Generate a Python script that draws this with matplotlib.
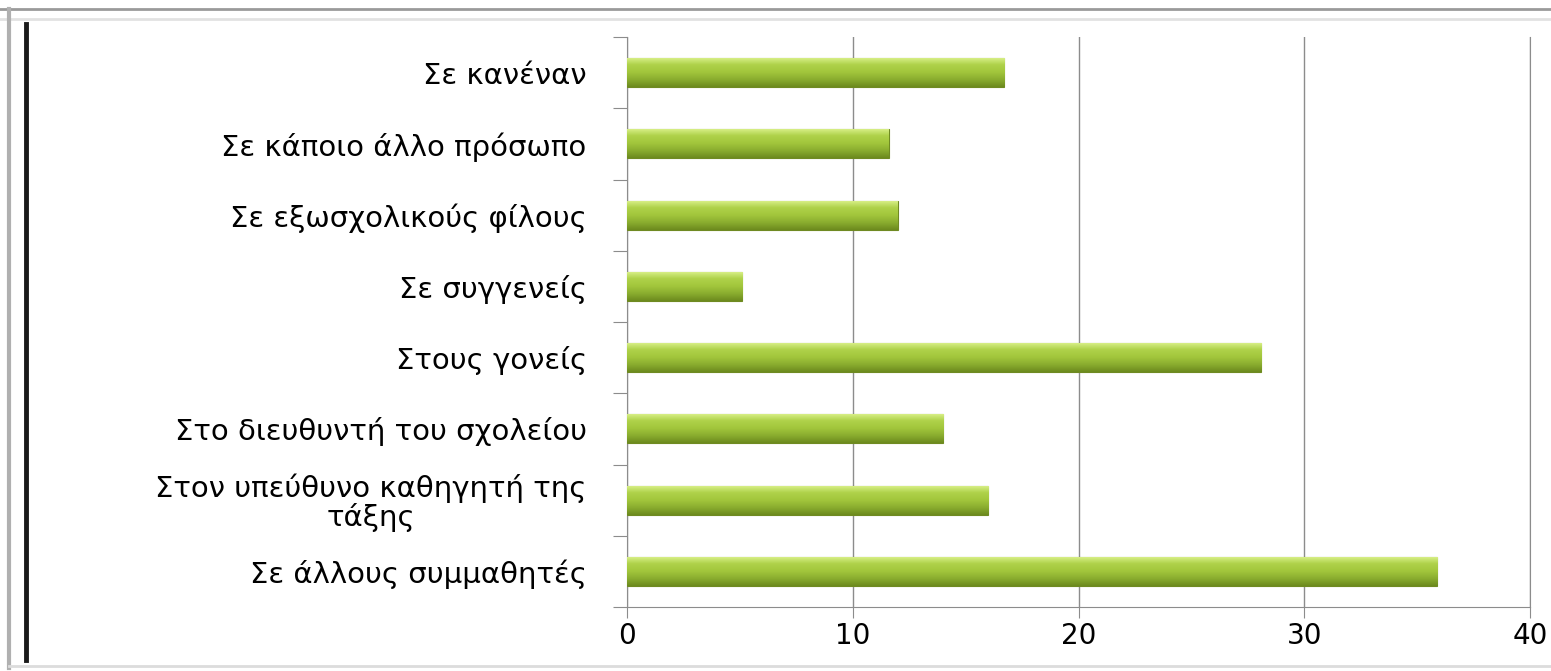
import numpy as np
import matplotlib
matplotlib.use('Agg')
import matplotlib.pyplot as plt
from matplotlib.colors import LinearSegmentedColormap
from matplotlib.lines import Line2D

# categories from bottom to top
categories = ['Σε άλλους συμμαθητές',
              'Στον υπεύθυνο καθηγητή της\nτάξης',
              'Στο διευθυντή του σχολείου',
              'Στους γονείς',
              'Σε συγγενείς',
              'Σε εξωσχολικούς φίλους',
              'Σε κάποιο άλλο πρόσωπο',
              'Σε κανέναν']
values = [35.9, 16.0, 14.0, 28.1, 5.1, 12.0, 11.6, 16.7]
xticks = [0, 10, 20, 30, 40]

W, H = 1551, 671
fig = plt.figure(figsize=(W / 100, H / 100), dpi=100)
fig.patch.set_facecolor('white')

ax = fig.add_axes([627 / W, 1 - 607 / H, (1530 - 627) / W, (607 - 37) / H])

y = np.arange(len(categories))
bars = ax.barh(y, values, height=0.41, color='#a2c63c', edgecolor='#6f8a22',
               linewidth=0.8, zorder=3)

# vertical gradient on each bar (dark bottom -> light top)
cmap = LinearSegmentedColormap.from_list(
    'bar', ['#6c8a1e', '#8aad2f', '#a2c63c', '#afd24a', '#dcf28e'])
grad = np.linspace(0, 1, 100).reshape(-1, 1)
for b in bars:
    x0, y0 = b.get_x(), b.get_y()
    w, h = b.get_width(), b.get_height()
    im = ax.imshow(grad, cmap=cmap, extent=[x0, x0 + w, y0, y0 + h],
                   origin='lower', aspect='auto', zorder=3.5)
    im.set_clip_path(b)

ax.set_xlim(0, 40)
ax.set_ylim(-0.5, len(categories) - 0.5)

ax.set_xticks(xticks)
ax.set_xticklabels([str(t) for t in xticks], fontsize=20)
ax.tick_params(axis='x', length=8, color='#8c8c8c', pad=3)

ax.set_yticks(np.arange(-0.5, len(categories), 1))
ax.set_yticklabels([])
ax.set_yticks(y, minor=True)
ax.set_yticklabels(categories, minor=True, fontsize=21)
ax.tick_params(axis='y', which='major', length=10, color='#8c8c8c')
ax.tick_params(axis='y', which='minor', length=0, pad=29)
for lbl in ax.get_yticklabels(minor=True):
    lbl.set_multialignment('center')
    lbl.set_linespacing(1.0)

ax.xaxis.grid(True, color='#8c8c8c', linewidth=1)
ax.set_axisbelow(True)
ax.spines['top'].set_visible(False)
for s in ['left', 'bottom', 'right']:
    ax.spines[s].set_color('#8c8c8c')

# frame around the picture
def fline(x1, y1, x2, y2, **kw):
    fig.add_artist(Line2D([x1 / W, x2 / W], [1 - y1 / H, 1 - y2 / H], **kw))

fline(0, 9, W, 9, color='#9a9a9a', linewidth=2)
fline(0, 19, W, 19, color='#e2e2e2', linewidth=2)
fline(9, 9, 9, 668, color='#b0b0b0', linewidth=3)
fline(26, 24, 26, 660, color='#1a1a1a', linewidth=3.5)
fline(9, 666, W, 666, color='#dcdcdc', linewidth=2)

fig.savefig('out.png', dpi=100)
